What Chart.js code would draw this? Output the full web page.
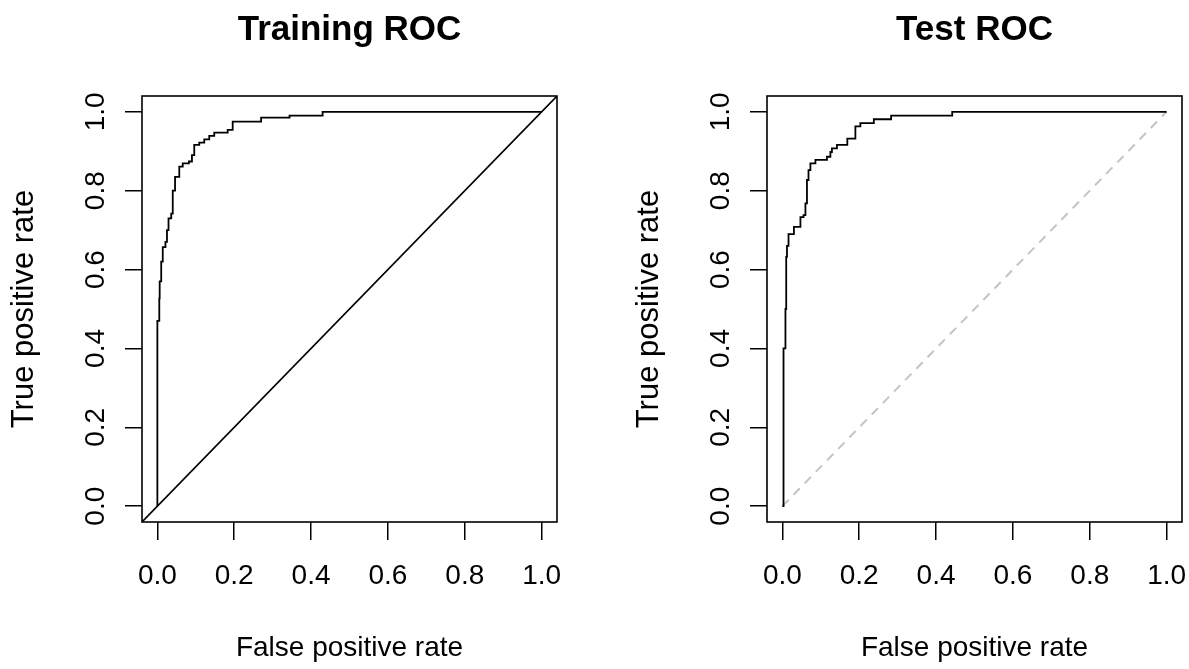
<!DOCTYPE html>
<html>
<head>
<meta charset="utf-8">
<script src="https://cdn.jsdelivr.net/npm/chart.js@4.4.0/dist/chart.umd.min.js"></script>
<style>
  body { margin: 0; background: #fff; overflow: hidden; }
  .panel { position: absolute; top: 0; }
</style>
</head>
<body>
<canvas id="trainChart" class="panel" width="589" height="669" style="left:-25px"></canvas>
<canvas id="testChart" class="panel" width="589" height="669" style="left:600px"></canvas>
<script>
// axis ticks shared by both panels
const tickValues = [0, 0.2, 0.4, 0.6, 0.8, 1.0];

// Training ROC curve (false positive rate, true positive rate)
const trainFpr = [0, 0, 0.005, 0.006, 0.01, 0.014, 0.021, 0.025, 0.029, 0.036, 0.04, 0.046, 0.057, 0.066, 0.082, 0.09, 0.096, 0.109, 0.122, 0.135, 0.148, 0.174, 0.183, 0.196, 0.261, 0.27, 0.344, 0.43, 0.43, 1.0];
const trainTpr = [0, 0.47, 0.527, 0.57, 0.62, 0.657, 0.67, 0.70, 0.73, 0.742, 0.80, 0.835, 0.861, 0.869, 0.874, 0.89, 0.916, 0.922, 0.93, 0.939, 0.947, 0.947, 0.954, 0.975, 0.975, 0.985, 0.99, 0.995, 1.0, 1.0];

// Test ROC curve
const testFpr = [0, 0.003, 0.008, 0.01, 0.012, 0.016, 0.025, 0.03, 0.038, 0.047, 0.055, 0.06, 0.064, 0.068, 0.073, 0.086, 0.112, 0.116, 0.125, 0.129, 0.142, 0.164, 0.169, 0.186, 0.19, 0.203, 0.234, 0.238, 0.281, 0.283, 0.4375, 0.442, 1.0];
const testTpr = [0, 0.40, 0.50, 0.632, 0.66, 0.69, 0.69, 0.708, 0.708, 0.733, 0.738, 0.768, 0.827, 0.852, 0.869, 0.878, 0.878, 0.886, 0.898, 0.907, 0.916, 0.916, 0.932, 0.932, 0.963, 0.971, 0.971, 0.981, 0.981, 0.99, 0.99, 1.0, 1.0];

// reference diagonals
const trainDiag = [-0.04, 1.04];
const testDiag = [0, 1];

const FONT = '"Liberation Sans", Arial, Helvetica, sans-serif';

function toPoints(xs, ys) {
    return xs.map((x, i) => ({ x: x, y: ys[i] }));
}

// R-style box around the plot region
const boxPlugin = {
    id: 'box',
    afterDraw(chart) {
        const a = chart.chartArea;
        const ctx = chart.ctx;
        ctx.save();
        ctx.strokeStyle = '#000';
        ctx.lineWidth = 1.6;
        ctx.strokeRect(a.left, a.top, a.right - a.left, a.bottom - a.top);
        ctx.restore();
    }
};

function makeRoc(id, title, fpr, tpr, diag, diagStyle) {
    const ctx = document.getElementById(id).getContext('2d');
    return new Chart(ctx, {
        type: 'scatter',
        data: {
            datasets: [
                {
                    data: toPoints(fpr, tpr),
                    showLine: true,
                    stepped: 'before',
                    borderColor: '#000',
                    borderWidth: 1.8,
                    pointRadius: 0,
                    fill: false,
                },
                Object.assign({
                    data: toPoints(diag, diag),
                    showLine: true,
                    pointRadius: 0,
                    fill: false,
                }, diagStyle),
            ],
        },
        options: {
            responsive: false,
            animation: false,
            events: [],
            layout: { padding: { left: 0, right: 7, top: 0, bottom: 0 } },
            plugins: {
                legend: { display: false },
                tooltip: { enabled: false },
            },
            scales: {
                x: {
                    type: 'linear',
                    position: 'bottom',
                    min: -0.04,
                    max: 1.04,
                    afterBuildTicks: s => { s.ticks = tickValues.map(v => ({ value: v })); },
                    afterFit: s => { s.height = 147; s.paddingLeft = 0; s.paddingRight = 0; },
                    grid: { drawOnChartArea: false, drawTicks: true, tickLength: 18, color: '#000', lineWidth: 1.5 },
                    border: { display: false },
                    ticks: {
                        color: '#000',
                        padding: 19,
                        minRotation: 0,
                        maxRotation: 0,
                        font: { size: 28, family: FONT },
                        callback: v => v.toFixed(1),
                    },
                    title: {
                        display: true,
                        text: 'False positive rate',
                        color: '#000',
                        font: { size: 28, family: FONT },
                        padding: { top: 0, bottom: 4 },
                    },
                },
                y: {
                    type: 'linear',
                    position: 'left',
                    min: -0.04,
                    max: 1.04,
                    afterBuildTicks: s => { s.ticks = tickValues.map(v => ({ value: v })); },
                    afterFit: s => { s.width = 167; s.paddingTop = 0; s.paddingBottom = 0; },
                    grid: { drawOnChartArea: false, drawTicks: true, tickLength: 17, color: '#000', lineWidth: 1.5 },
                    border: { display: false },
                    ticks: {
                        color: '#000',
                        padding: 9,
                        minRotation: 90,
                        maxRotation: 90,
                        crossAlign: 'center',
                        font: { size: 28, family: FONT },
                        callback: v => v.toFixed(1),
                    },
                    title: {
                        display: true,
                        text: 'True positive rate',
                        color: '#000',
                        font: { size: 31, family: FONT },
                        padding: { top: 31, bottom: 0 },
                    },
                },
                top: {
                    type: 'linear',
                    position: 'top',
                    min: 0,
                    max: 1,
                    afterFit: s => { s.height = 96; },
                    grid: { display: false },
                    border: { display: false },
                    ticks: { display: false },
                    title: {
                        display: true,
                        text: title,
                        color: '#000',
                        font: { size: 35, weight: 'bold', family: FONT },
                        padding: { top: 9, bottom: 0 },
                    },
                },
            },
        },
        plugins: [boxPlugin],
    });
}

makeRoc('trainChart', 'Training ROC', trainFpr, trainTpr, trainDiag, {
    borderColor: '#000',
    borderWidth: 1.6,
});

makeRoc('testChart', 'Test ROC', testFpr, testTpr, testDiag, {
    borderColor: '#c4c4c4',
    borderWidth: 2,
    borderDash: [9, 7],
});
</script>
</body>
</html>
